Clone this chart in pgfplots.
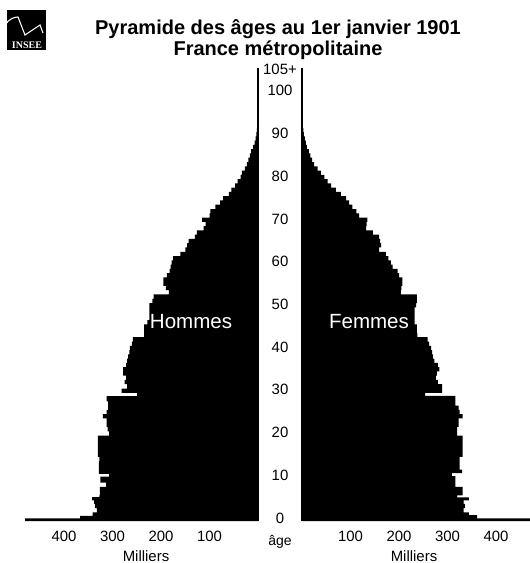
\documentclass[border=0pt]{standalone}
\usepackage{pgfplots}
\pgfplotsset{compat=1.18}
\usepackage{fontspec}
\setmainfont{Liberation Sans}
\newfontfamily\logofont{Liberation Serif}
\definecolor{ink}{gray}{0}
\pgfplotsset{pyr/.style={
  xbar interval,
  scale only axis, height=339.75pt, ymin=0, ymax=106,
  xmin=0, axis x line=bottom,
  xtick={100,200,300,400}, major tick length=0pt,
  /pgf/number format/assume math mode=true,
  xticklabel style={font=\fontsize{11.2}{12}\selectfont,text=ink,yshift=-4pt},
  y tick label as interval=false, x tick label as interval=false,
  xmajorgrids=false, ymajorgrids=false,
  clip=true,
  axis on top=true,
},
pyrlines/.style={axis line style={-}, x axis line style={draw=none}, y axis line style={draw=ink,line width=0.8pt}}}
\begin{document}
\begin{tikzpicture}[x=0.75pt,y=0.75pt]
\useasboundingbox (0,0) rectangle (530,563);
% logo
\fill[ink] (7,513) rectangle (46,553);
\draw[white,line width=0.8pt] (5,538) .. controls (9,544) and (14,546) .. (18,546) -- (25,528) -- (40,538) -- (43,530);
\node[white,font=\logofont\bfseries\fontsize{7.5}{8}\selectfont,inner sep=0pt] at (27,518) {INSEE};
% left
\begin{axis}[pyr, axis y line=right, pyrlines, at={(193.5pt,31.5pt)}, anchor=south east, width=193.5pt, xmax=532, x dir=reverse, ytick=\empty]
\addplot[fill=ink,draw=none] coordinates {
(480,0)(367,0.6)(341,1.2)(332,2)(336,3)(338,4)(342,4.8)(327,5.6)(326,6)(326,7)(313,8)(325,9)(307,10.4)(328,11)(328,12)(328,13)(327,14)(330,15)(330,16)(330,17)(330,18)(330,19)(307,20)(310,21)(312,22)(312,23)(320,24)(312,25)(309,26)(309,27)(312,28)(249,29.2)(281,30)(270,31)(275,32)(272,33)(278,34)(278,35)(272,36)(270,37)(268,38)(265,39)(264,40)(260,41)(258,42)(235,43)(235,44)(235,45)(228,46)(224,47)(224,48)(224,49)(224,50)(218,51)(215,52)(184,53)(190,54)(195,55)(195,56)(188,57)(182,58)(180,59)(178,60)(175,61)(160,62)(150,63)(146,64)(143,65)(130,66)(126,67)(112,68)(108,69)(115,70)(100,71)(98,72)(88,73)(78,74)(72,75)(60,76)(55,77)(47,78)(42,79)(36,80)(33,81)(27,82)(23,83)(20,84)(17,85)(14,86)(10,87)(7,88)(5,89)(3.5,90)(2.5,91)(1.5,92)(1,93)(0.5,94)(0.3,95)(0.2,96)(0.2,105)(0,106)
};
\end{axis}
% right
\begin{axis}[pyr, axis y line=left, pyrlines, at={(226.5pt,31.5pt)}, anchor=south west, width=171pt, xmax=470,
  ytick={0,10,20,30,40,50,60,70,80,90,100,105},
  yticklabels={0,10,20,30,40,50,60,70,80,90,100,105+},
  yticklabel style={font=\fontsize{11.2}{12}\selectfont,text=ink,anchor=center,xshift=-16.5pt,yshift=2.2pt}]
\addplot[fill=ink,draw=none] coordinates {
(480,0)(361,0.6)(344,1.4)(333,2)(336,3)(333,4)(344,4.8)(320,5.5)(331,6)(331,7)(316,8)(316,9)(309,10.5)(330,11.2)(325,12)(325,13)(325,14)(331,15)(331,16)(331,17)(331,18)(331,19)(320,20)(320,21)(323,22)(323,23)(331,24)(325,25)(323,26)(316,27)(316,28)(254,29.3)(289,30)(289,31)(280,32)(276,33)(278,34)(283,35)(280,36)(273,37)(270,38)(268,39)(266,40)(262,41)(259,42)(238,43)(237,44)(237,45)(232,46)(232,47)(232,48)(232,49)(235,50)(237,51)(237,52)(204,53)(205,54)(207,55)(207,56)(200,57)(197,58)(187,59)(183,60)(178,61)(173,62)(159,63)(163,64)(161,65)(159,66)(146,67)(132,68)(133,69)(135,70)(118,71)(112,72)(104,73)(97,74)(91,75)(80,76)(70,77)(60,78)(53,79)(46,80)(39,81)(32,82)(25,83)(21,84)(17,85)(14,86)(10,87)(8,88)(6,89)(4,90)(3,91)(1.5,92)(1,93)(0.5,94)(0.3,95)(0.2,96)(0.2,105)(0,106)
};
\end{axis}
% text
\node[font=\bfseries\fontsize{15}{16}\selectfont,text=ink,inner sep=0pt] at (278,534) {Pyramide des âges au 1er janvier 1901};
\node[font=\bfseries\fontsize{15}{16}\selectfont,text=ink,inner sep=0pt] at (278,513) {France métropolitaine};
\node[font=\fontsize{15.4}{17}\selectfont,text=white,inner sep=0pt] at (191,241) {Hommes};
\node[font=\fontsize{15.4}{17}\selectfont,text=white,inner sep=0pt] at (369,241) {Femmes};
\node[font=\fontsize{11.2}{12}\selectfont,text=ink,inner sep=0pt] at (146,6.5) {Milliers};
\node[font=\fontsize{11.2}{12}\selectfont,text=ink,inner sep=0pt] at (414,6.5) {Milliers};
\node[font=\fontsize{10.5}{12}\selectfont,text=ink,inner sep=0pt] at (280,21) {âge};
\end{tikzpicture}
\end{document}
